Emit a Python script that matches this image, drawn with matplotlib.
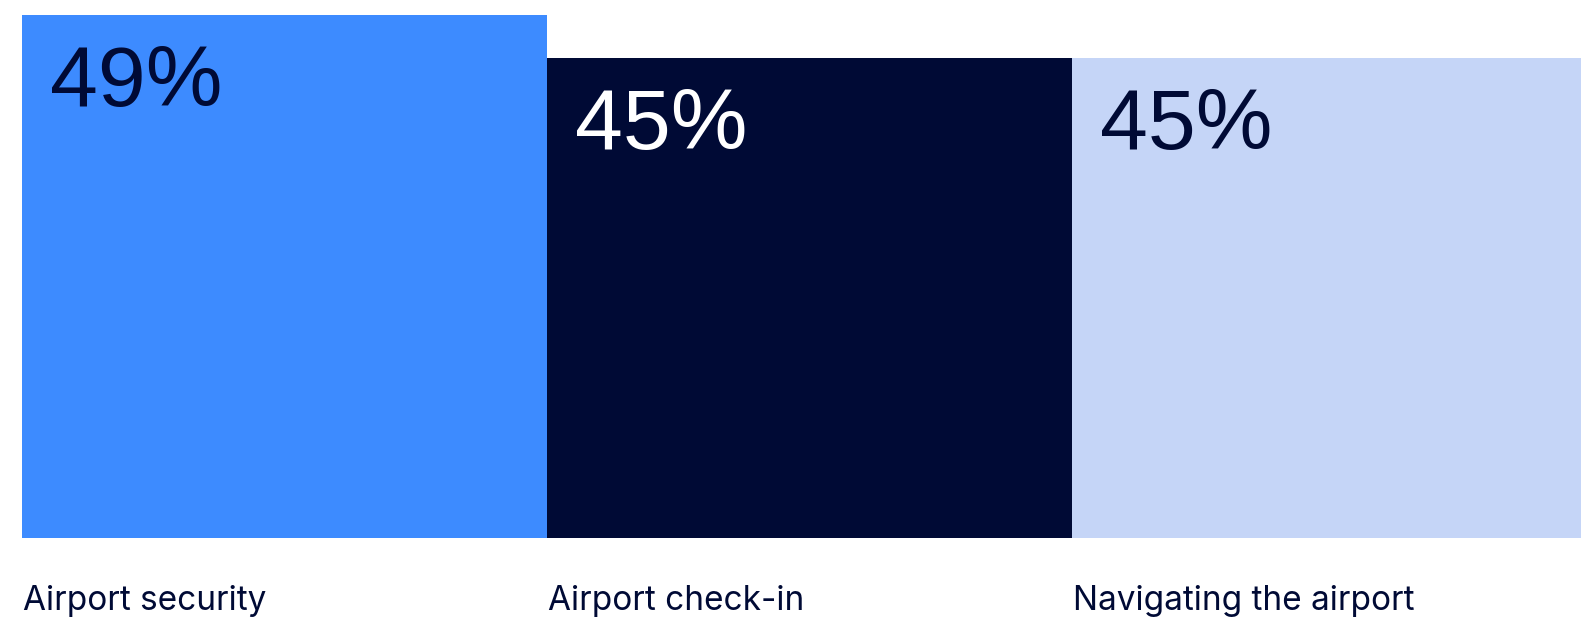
import matplotlib
matplotlib.use("Agg")
import matplotlib.pyplot as plt

categories = ["Airport security", "Airport check-in", "Navigating the airport"]
values = [49, 45, 45]
value_labels = ["49%", "45%", "45%"]
bar_colors = ["#3d8bff", "#000a35", "#c5d5f7"]
text_colors = ["#000a35", "#ffffff", "#000a35"]

W, H = 1581, 620
fig = plt.figure(figsize=(W / 100, H / 100), dpi=100)
fig.patch.set_facecolor("white")

left_px, bottom_px, top_px = 22, 538, 15
bar_w_px = 525
px_per_unit = (bottom_px - top_px) / values[0]

ax = fig.add_axes([left_px / W, (H - bottom_px) / H, 1 - left_px / W, bottom_px / H])
ax.set_xlim(0, (W - left_px) / bar_w_px)
ax.set_ylim(0, bottom_px / px_per_unit)
ax.axis("off")

xs = list(range(len(categories)))
ax.bar(xs, values, width=1.0, align="edge", color=bar_colors, linewidth=0, clip_on=False)

val_off = 91 / px_per_unit
val_dx = 28 / bar_w_px
cat_y = -(610 - bottom_px) / px_per_unit
for x, v, lab, tc, cat in zip(xs, values, value_labels, text_colors, categories):
    ax.text(x + val_dx, v - val_off, lab, color=tc, fontsize=62, family="Liberation Sans",
            va="baseline", ha="left")
    ax.text(x + 1 / bar_w_px, cat_y, cat, color="#000a35", fontsize=24, family="Inter",
            va="baseline", ha="left", clip_on=False)

fig.savefig("out.png", dpi=100, facecolor="white")
